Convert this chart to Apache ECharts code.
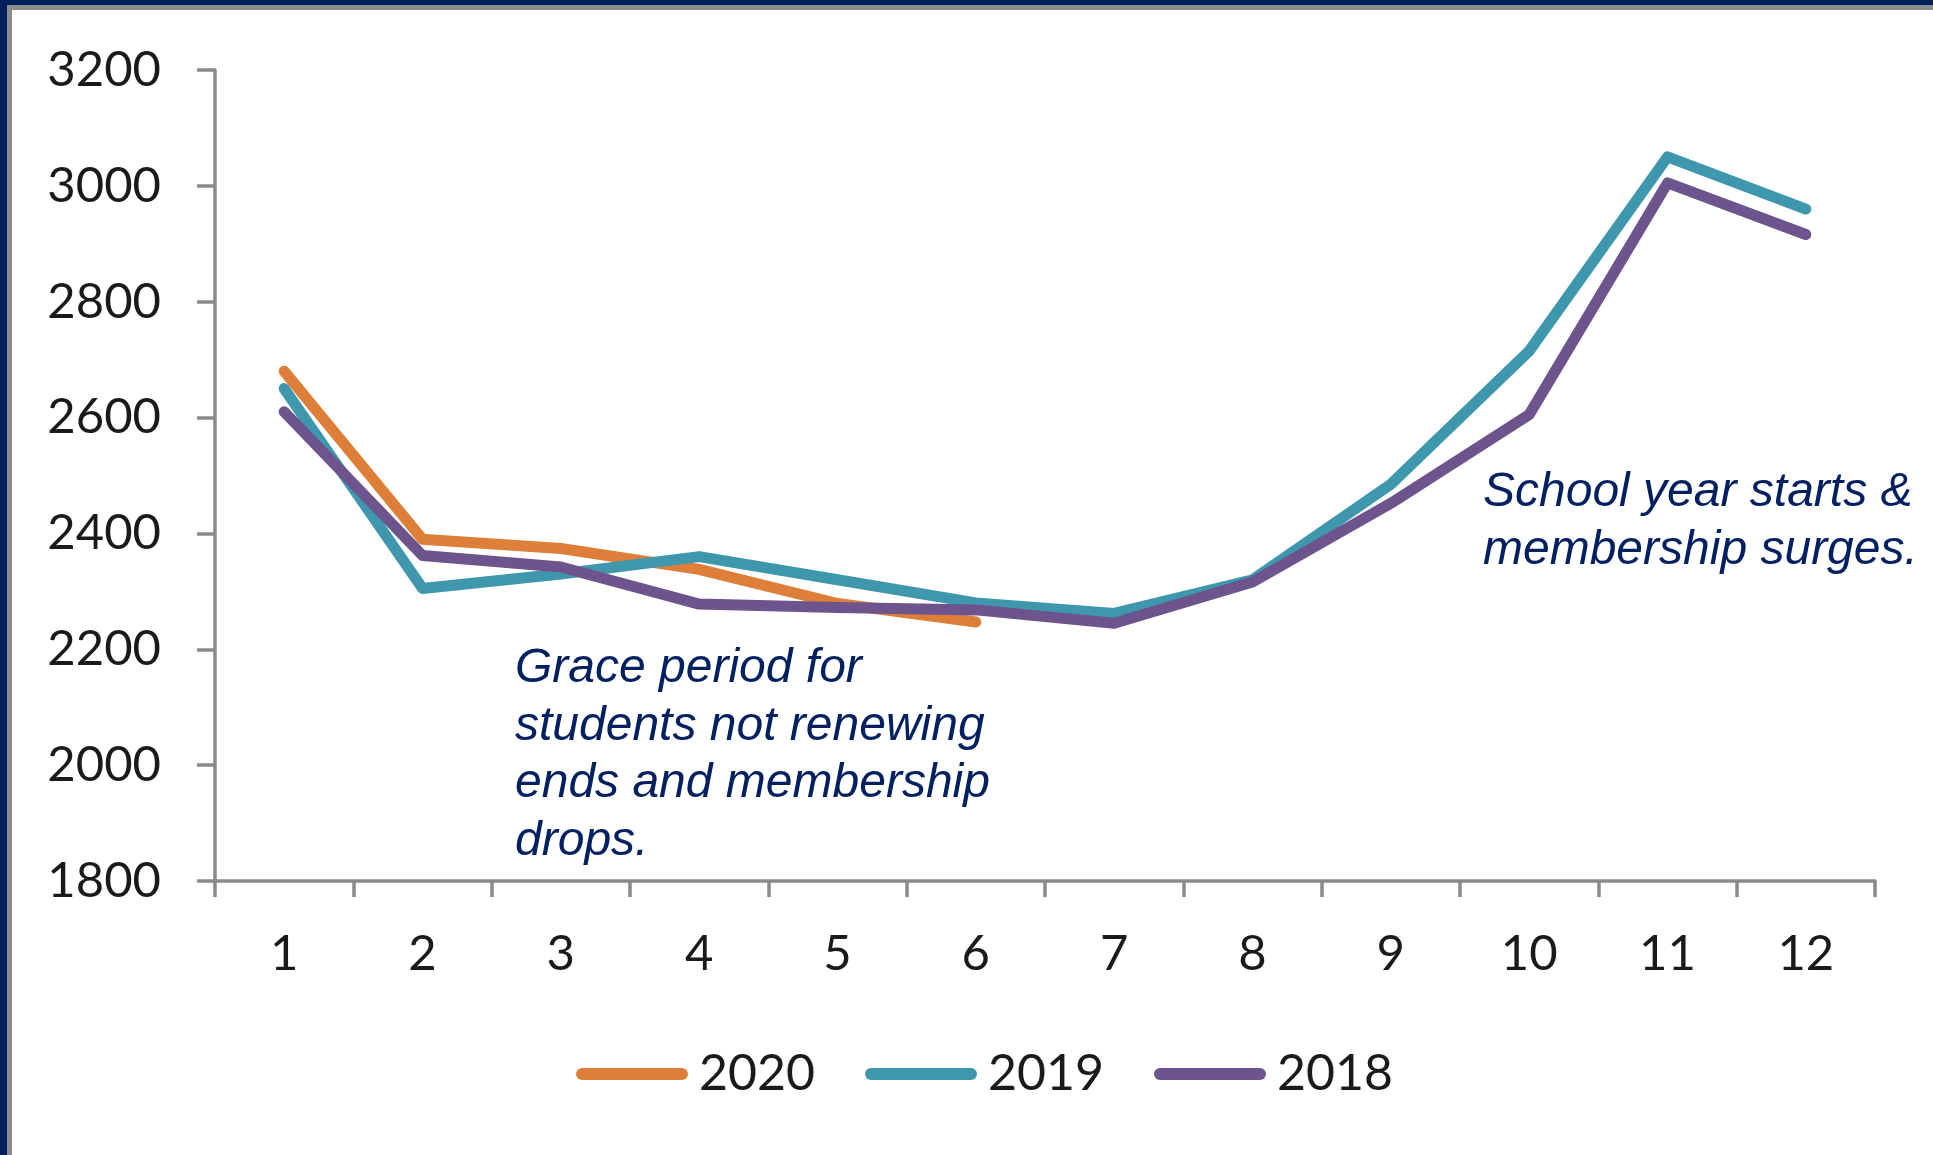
<!DOCTYPE html>
<html>
<head>
<meta charset="utf-8">
<script src="https://cdn.jsdelivr.net/npm/echarts@6/dist/echarts.min.js"></script>
<style>
html,body{margin:0;padding:0;background:#fff;}
#chart{width:1933px;height:1155px;}
</style>
</head>
<body>
<div id="chart"></div>
<script>
const months = ['1','2','3','4','5','6','7','8','9','10','11','12'];
const yTicks = { min: 1800, max: 3200, interval: 200 };
const s2020 = [2680, 2390, 2374, 2338, 2279, 2247, null, null, null, null, null, null];
const s2019 = [2650, 2305, 2330, 2360, 2320, 2280, 2262, 2320, 2485, 2715, 3050, 2960];
const s2018 = [2610, 2362, 2342, 2278, 2272, 2268, 2245, 2316, 2452, 2605, 3005, 2916];
const seriesNames = ['2020', '2019', '2018'];
const colors = ['#DD7F38', '#3F97AE', '#6E548D'];
const noteGrace = 'Grace period for\nstudents not renewing\nends and membership\ndrops.';
const noteSchool = 'School year starts &\nmembership surges.';

const chart = echarts.init(document.getElementById('chart'), null, {renderer: 'canvas'});
const labelFont = 'Lato, "Liberation Sans", sans-serif';
const axisColor = '#8a8a8a';

function lineSeries(name, data, color) {
  return {
    name: name, type: 'line', data: data, showSymbol: false, symbol: 'none',
    connectNulls: false, animation: false,
    lineStyle: { color: color, width: 11, cap: 'round', join: 'round' },
    itemStyle: { color: color }
  };
}

chart.setOption({
  backgroundColor: '#ffffff',
  animation: false,
  grid: { left: 215, right: 58, top: 70, bottom: 274, containLabel: false },
  xAxis: {
    type: 'category', data: months, boundaryGap: true,
    axisLine: { lineStyle: { color: axisColor, width: 3.5 } },
    axisTick: { show: true, length: 16, lineStyle: { color: axisColor, width: 3.5 } },
    axisLabel: { color: '#1a1a1a', fontFamily: labelFont, fontSize: 49, margin: 49 },
    splitLine: { show: false }
  },
  yAxis: {
    type: 'value', min: yTicks.min, max: yTicks.max, interval: yTicks.interval,
    axisLine: { show: true, lineStyle: { color: axisColor, width: 3.5 } },
    axisTick: { show: true, length: 18, lineStyle: { color: axisColor, width: 3.5 } },
    axisLabel: { color: '#1a1a1a', fontFamily: labelFont, fontSize: 49, margin: 54,
      formatter: function (v) { return String(v); } },
    splitLine: { show: false }
  },
  legend: {
    data: seriesNames, left: 571, top: 1044, itemGap: 50,
    itemWidth: 112, itemHeight: 12,
    icon: 'path://M6,0 L106,0 A6,6 0 0 1 106,12 L6,12 A6,6 0 0 1 6,0 Z',
    textStyle: { color: '#1a1a1a', fontFamily: labelFont, fontSize: 50, lineHeight: 50, padding: [0, 0, 0, 6] }
  },
  graphic: [
    { type: 'rect', left: 0, top: 0, shape: { width: 1933, height: 10 }, style: { fill: '#8c8c8c' }, z: 100 },
    { type: 'rect', left: 0, top: 0, shape: { width: 12, height: 1155 }, style: { fill: '#8c8c8c' }, z: 100 },
    { type: 'rect', left: 0, top: 0, shape: { width: 1933, height: 5 }, style: { fill: '#00205B' }, z: 101 },
    { type: 'rect', left: 0, top: 0, shape: { width: 7, height: 1155 }, style: { fill: '#00205B' }, z: 101 },
    { type: 'text', left: 515, top: 640, z: 50,
      style: { text: noteGrace, fill: '#002060', fontFamily: 'Liberation Sans', fontStyle: 'italic', fontSize: 48, lineHeight: 57.5 } },
    { type: 'text', left: 1483, top: 464, z: 50,
      style: { text: noteSchool, fill: '#002060', fontFamily: 'Liberation Sans', fontStyle: 'italic', fontSize: 48, lineHeight: 57.5 } }
  ],
  series: [
    lineSeries(seriesNames[0], s2020, colors[0]),
    lineSeries(seriesNames[1], s2019, colors[1]),
    lineSeries(seriesNames[2], s2018, colors[2])
  ]
});
</script>
</body>
</html>
